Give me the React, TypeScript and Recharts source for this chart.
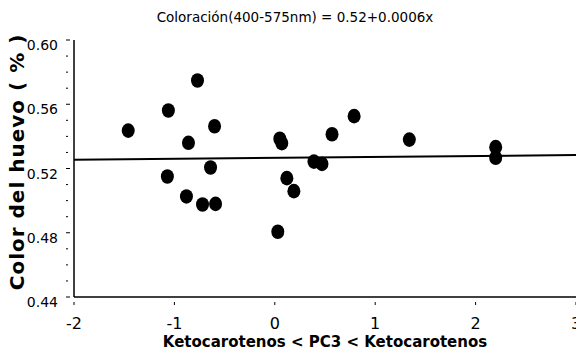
import React from "react";
import { ScatterChart, Scatter, XAxis, YAxis, Customized } from "recharts";

// PC3 scores and egg colour values
const pc3 = [-1.46, -1.06, -0.77, -0.6, -0.86, -1.07, -0.64, -0.88, -0.72, -0.59, 0.05, 0.07, 0.57, 0.39, 0.47, 0.12, 0.19, 0.03, 0.79, 1.34, 2.2, 2.2];
const coloracion = [0.5436, 0.5561, 0.5748, 0.5463, 0.536, 0.515, 0.5206, 0.5026, 0.4976, 0.498, 0.5385, 0.5358, 0.5413, 0.5243, 0.5229, 0.514, 0.5059, 0.4806, 0.5526, 0.538, 0.5333, 0.5267];

// fitted line endpoints
const fitX = [-2, 3];
const fitY = [0.5254, 0.5284];

const xTicks = [-2, -1, 0, 1, 2, 3];
const yTicks = [0.44, 0.45, 0.46, 0.47, 0.48, 0.49, 0.5, 0.51, 0.52, 0.53, 0.54, 0.55, 0.56, 0.57, 0.58, 0.59, 0.6];
const yMajor = [0.44, 0.48, 0.52, 0.56, 0.6];

const points = pc3.map((x, i) => ({ x, y: coloracion[i] }));
const fit = fitX.map((x, i) => ({ x, y: fitY[i] }));

const font = "'DejaVu Sans', sans-serif";

const Dot = (props: any) => <ellipse cx={props.cx} cy={props.cy} rx={6.5} ry={7.3} fill="#000" />;

const YTick = (props: any) => {
  const { x, y, payload } = props;
  const major = yMajor.some((v) => Math.abs(v - payload.value) < 1e-6);
  return (
    <g>
      <line x1={x} x2={x + (major ? 4 : 2)} y1={y} y2={y} stroke="#000" strokeWidth={1} />
      {major ? (
        <text x={x - 8} y={y + 10} textAnchor="end" fontSize={14} fontFamily={font} fill="#000">
          {payload.value.toFixed(2)}
        </text>
      ) : null}
    </g>
  );
};

const XTick = (props: any) => {
  const { x, y, payload } = props;
  return (
    <g>
      <line x1={x} x2={x} y1={y} y2={y - 3} stroke="#000" strokeWidth={1} />
      <text x={x} y={y + 24} textAnchor="middle" fontSize={16} fontFamily={font} fill="#000">
        {payload.value}
      </text>
    </g>
  );
};

export default function App() {
  return (
    <div style={{ position: "absolute", left: 0, top: 0, width: 576, height: 351, background: "#fff" }}>
      <ScatterChart width={576} height={351} margin={{ top: 40, right: 0, left: 0, bottom: 0 }}>
        <XAxis
          type="number"
          dataKey="x"
          domain={[-2, 3]}
          ticks={xTicks}
          height={54}
          axisLine={{ stroke: "#000", strokeWidth: 1.5 }}
          tickLine={false}
          tick={<XTick />}
          interval={0}
          allowDataOverflow
        />
        <YAxis
          type="number"
          dataKey="y"
          domain={[0.44, 0.6]}
          ticks={yTicks}
          width={74}
          axisLine={{ stroke: "#000", strokeWidth: 1.5 }}
          tickLine={false}
          tick={<YTick />}
          interval={0}
          allowDataOverflow
        />
        <Scatter data={fit} line={{ stroke: "#000", strokeWidth: 2 }} shape={() => null} isAnimationActive={false} />
        <Scatter data={points} shape={<Dot />} isAnimationActive={false} />
        <Customized
          component={() => (
            <g>
              <text x={295} y={22} textAnchor="middle" fontSize={13.5} fontFamily={font} fill="#000">
                Coloración(400-575nm) = 0.52+0.0006x
              </text>
              <text x={325} y={347} textAnchor="middle" fontSize={15} fontWeight="bold" fontFamily={font} fill="#000">
                Ketocarotenos &lt; PC3 &lt; Ketocarotenos
              </text>
              <text
                x={0}
                y={0}
                transform="translate(24,162) rotate(-90)"
                textAnchor="middle"
                fontSize={20}
                fontWeight="bold"
                letterSpacing={1}
                fontFamily={font}
                fill="#000"
              >
                Color del huevo ( % )
              </text>
            </g>
          )}
        />
      </ScatterChart>
    </div>
  );
}
